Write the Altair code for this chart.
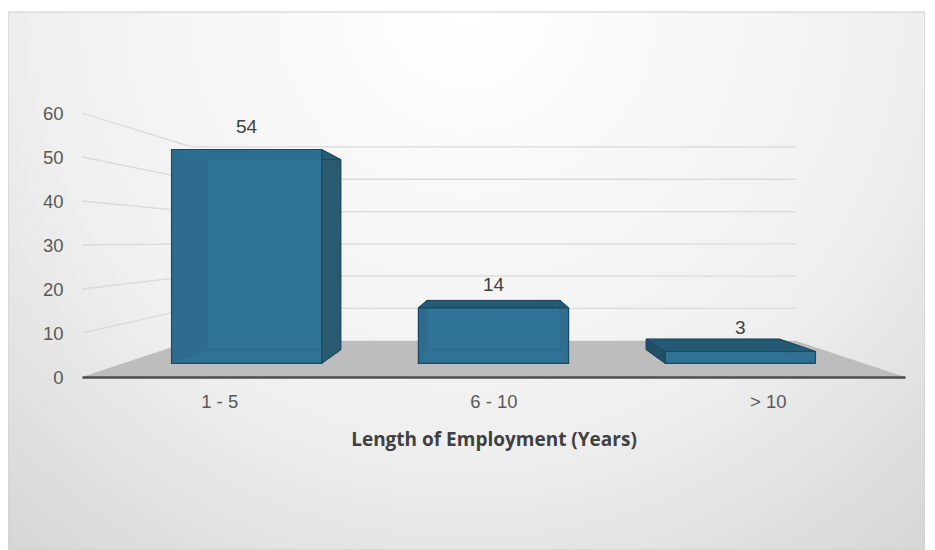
import json
import altair as alt
import pandas as pd

# ---- data ----
categories = ["1 - 5", "6 - 10", "> 10"]
values = [54, 14, 3]
y_ticks = [0, 10, 20, 30, 40, 50, 60]
x_title = "Length of Employment (Years)"

# ---- perspective (styling) parameters ----
VX, VY = 1.5, 31.0          # vanishing point in data units
S_FRONT, S_BACK, S_WALL = 0.9, 0.8, 0.734
HALF = 0.304                # half width of a bar (category units)
N = len(categories)


def px(x, s):
    return VX + (x - VX) * s


def py(v, s):
    return VY + (v - VY) * s


rects, vsides, hfaces, labels = [], [], [], []
for i, (cat, v) in enumerate(zip(categories, values)):
    c = i + 0.5
    xl, xr = c - HALF, c + HALF
    for kind, s in (("back", S_BACK), ("front", S_FRONT)):
        rects.append(dict(cat=cat, kind=kind, x=px(xl, s), x2=px(xr, s), y=py(0, s), y2=py(v, s)))
    for side, xs in (("left", xl), ("right", xr)):
        for s in (S_FRONT, S_BACK):
            vsides.append(dict(face=f"{cat}-{side}", kind=side, x=px(xs, s), y=py(0, s), y2=py(v, s)))
    for face, vf in (("bottom", 0), ("top", v)):
        for s in (S_FRONT, S_BACK):
            hfaces.append(dict(face=f"{cat}-{face}", kind=face, y=py(vf, s), x=px(xl, s), x2=px(xr, s)))
    labels.append(dict(x=px(c, S_FRONT), y=py(v, S_FRONT), label=str(v)))

grid_rows = []
for t in y_ticks[1:]:
    # back wall line
    grid_rows.append(dict(x=px(0, S_WALL), x2=px(N, S_WALL), y=py(t, S_WALL), y2=py(t, S_WALL)))
    # left wall line
    grid_rows.append(dict(x=0, x2=px(0, S_WALL), y=t, y2=py(t, S_WALL)))

floor_rows = [
    dict(y=0, x=0, x2=N),
    dict(y=py(0, S_WALL), x=px(0, S_WALL), x2=px(N, S_WALL)),
]

label_expr = f"{json.dumps(categories)}[floor(datum.value)]"

x_axis = alt.Axis(
    values=[i + 0.5 for i in range(N)], labelExpr=label_expr, grid=False, ticks=False,
    domainColor="#4d4d4d", domainWidth=2.5, labelPadding=15, labelFontSize=18.5,
    labelFont="Liberation Sans", labelColor="#595959", title=x_title, titleFont="Open Sans",
    titleFontSize=19, titleFontWeight="bold", titleColor="#404040", titlePadding=20, zindex=2,
)
y_axis = alt.Axis(
    values=y_ticks, grid=False, domain=False, ticks=False, labelPadding=19, labelFontSize=18.5,
    labelFont="Liberation Sans", labelColor="#595959", title=None, zindex=2,
)
X = alt.X("x:Q", scale=alt.Scale(domain=[0, N], nice=False, zero=False), axis=x_axis)
Y = alt.Y("y:Q", scale=alt.Scale(domain=[y_ticks[0], y_ticks[-1]], nice=False, zero=False), axis=y_axis)

W, H = 823, 264
PL, PT, PR, PB = 74, 105, 20, 173

bg = alt.Chart(pd.DataFrame({"a": [0]})).mark_rect(
    fill={
        "gradient": "radial",
        "stops": [{"offset": 0, "color": "#ffffff"}, {"offset": 0.55, "color": "#f0f0f0"},
                  {"offset": 1, "color": "#cfcfcf"}],
        "x1": 0.5, "y1": 0.2, "r1": 0, "x2": 0.5, "y2": 0.2, "r2": 0.85,
    },
    stroke="#cdcdcd", strokeWidth=1,
).encode(x=alt.value(-PL), x2=alt.value(W + PR), y=alt.value(-PT + 4), y2=alt.value(H + PB))

grid = alt.Chart(pd.DataFrame(grid_rows)).mark_rule(color="#dadada", strokeWidth=1.3).encode(
    x=X, y=Y, x2="x2:Q", y2="y2:Q")

floor = alt.Chart(pd.DataFrame(floor_rows)).mark_area(orient="horizontal", color="#bdbdbd").encode(
    y=Y, x=X, x2="x2:Q")

STROKE = "#1b4a60"
rect_df = pd.DataFrame(rects)
backs = alt.Chart(rect_df[rect_df.kind == "back"]).mark_rect(
    fill="#2c6d8c", stroke=STROKE, strokeWidth=1).encode(x=X, x2="x2:Q", y=Y, y2="y2:Q")

hf = pd.DataFrame(hfaces)
bottoms = alt.Chart(hf[hf.kind == "bottom"]).mark_area(
    orient="horizontal", fill="#2a6886", stroke=STROKE, strokeWidth=1).encode(
    y=Y, x=X, x2="x2:Q", detail="face:N")

sides = alt.Chart(pd.DataFrame(vsides)).mark_area(stroke=STROKE, strokeWidth=1).encode(
    x=X, y=Y, y2="y2:Q", detail="face:N",
    fill=alt.Fill("kind:N", scale=alt.Scale(domain=["left", "right"], range=["#234f66", "#2a5a70"]),
                  legend=None))

tops = alt.Chart(hf[hf.kind == "top"]).mark_area(
    orient="horizontal", fill="#245a73", stroke=STROKE, strokeWidth=1).encode(
    y=Y, x=X, x2="x2:Q", detail="face:N")

fronts = alt.Chart(rect_df[rect_df.kind == "front"]).mark_rect(
    fill="#31749a", fillOpacity=0.78, stroke=STROKE, strokeWidth=1.2).encode(
    x=X, x2="x2:Q", y=Y, y2="y2:Q")

texts = alt.Chart(pd.DataFrame(labels)).mark_text(
    dy=-23, fontSize=19, font="Liberation Sans", color="#404040").encode(x=X, y=Y, text="label:N")

chart = alt.layer(bg, grid, floor, backs, bottoms, sides, tops, fronts, texts).properties(
    width=W, height=H,
    autosize=alt.AutoSizeParams(type="none"),
    padding={"left": PL, "top": PT, "right": PR, "bottom": PB},
    background="white",
).configure_view(stroke=None)

chart.save("out.html", embed_options={"renderer": "svg", "actions": False})
